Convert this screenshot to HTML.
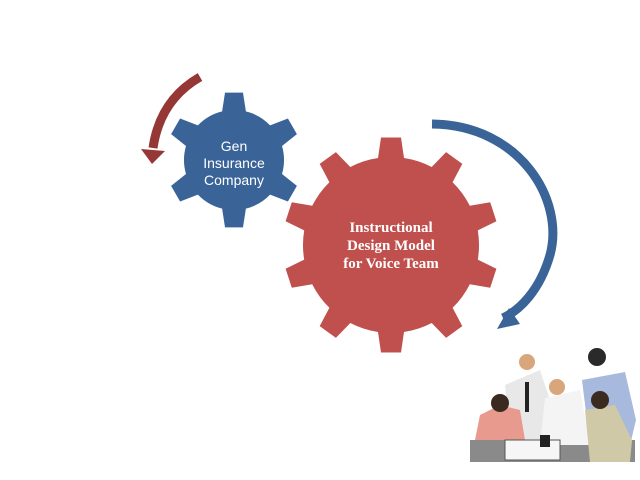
<!DOCTYPE html>
<html><head><meta charset="utf-8"><style>
html,body{margin:0;padding:0;background:#fff;}
svg{display:block;}
</style></head><body>
<svg id="s" width="640" height="480" viewBox="0 0 640 480" xmlns="http://www.w3.org/2000/svg">
<path id="g1" fill="#3a6498"/>
<path id="g2" fill="#c0504d"/>
<path d="M200,77 Q160,100 153,148" fill="none" stroke="#953735" stroke-width="9"/>
<polygon points="141,149 165,151 152,164" fill="#953735"/>
<path d="M432,124 C520,125 565,200 550,255 C540,290 520,310 503,318" fill="none" stroke="#3a6498" stroke-width="9"/>
<polygon points="509,308 497,329 520,324" fill="#3a6498"/>
<text x="234" y="151" font-family="Liberation Sans, sans-serif" font-size="14" fill="#fff" text-anchor="middle">Gen</text>
<text x="234" y="168" font-family="Liberation Sans, sans-serif" font-size="14" fill="#fff" text-anchor="middle">Insurance</text>
<text x="234" y="185" font-family="Liberation Sans, sans-serif" font-size="14" fill="#fff" text-anchor="middle">Company</text>
<text x="391" y="232" font-family="Liberation Serif, serif" font-size="15" font-weight="bold" fill="#fff" text-anchor="middle">Instructional</text>
<text x="391" y="250" font-family="Liberation Serif, serif" font-size="15" font-weight="bold" fill="#fff" text-anchor="middle">Design Model</text>
<text x="391" y="268" font-family="Liberation Serif, serif" font-size="15" font-weight="bold" fill="#fff" text-anchor="middle">for  Voice Team</text>
<g>
<rect x="470" y="440" width="165" height="22" fill="#8a8a8a"/>
<path d="M505,385 L540,370 L550,400 L545,440 L510,440 Z" fill="#e8e8e8"/>
<path d="M582,380 L625,372 L636,420 L630,445 L590,445 Z" fill="#a7b9dc"/>
<path d="M545,398 L580,390 L590,445 L540,445 Z" fill="#f4f4f4"/>
<path d="M475,440 L480,415 L500,405 L520,410 L525,440 Z" fill="#e89a8f"/>
<path d="M585,410 L615,405 L632,440 L630,462 L590,462 Z" fill="#cfc9a8"/>
<circle cx="500" cy="403" r="9" fill="#3a2a20"/>
<circle cx="527" cy="362" r="8" fill="#d9a57a"/>
<circle cx="557" cy="387" r="8" fill="#d9a57a"/>
<circle cx="597" cy="357" r="9" fill="#2a2a2a"/>
<circle cx="600" cy="400" r="9" fill="#3a2a20"/>
<rect x="525" y="382" width="4" height="30" fill="#222"/>
<rect x="505" y="440" width="55" height="20" fill="#f6f6f6" stroke="#555" stroke-width="1"/>
<rect x="540" y="435" width="10" height="12" fill="#222"/>
</g>
</svg>
<script>
function gear(cx,cy,rb,ro,n,tw,off){
 var pts=[],step=2*Math.PI/n;
 for(var i=0;i<n;i++){
  var a=off+i*step;
  var hb=(tw/2+2)/rb, ho=(tw/2-1)/ro;
  pts.push([a-hb,rb],[a-ho,ro],[a+ho,ro],[a+hb,rb]);
 }
 var d='';
 pts.forEach(function(p,k){
  var x=cx+p[1]*Math.cos(p[0]), y=cy+p[1]*Math.sin(p[0]);
  if(k==0) d+='M'+x.toFixed(1)+','+y.toFixed(1);
  else if(k%4==0) d+='A'+rb+','+rb+' 0 0 1 '+x.toFixed(1)+','+y.toFixed(1);
  else d+='L'+x.toFixed(1)+','+y.toFixed(1);
 });
 var p=pts[0];
 d+='A'+rb+','+rb+' 0 0 1 '+(cx+rb*Math.cos(p[0])).toFixed(1)+','+(cy+rb*Math.sin(p[0])).toFixed(1)+'Z';
 return d;
}
document.getElementById('g1').setAttribute('d',gear(234,160,50,68,6,20,-Math.PI/2));
document.getElementById('g2').setAttribute('d',gear(391,245,88,108,10,22,-Math.PI/2));
</script>
</body></html>
